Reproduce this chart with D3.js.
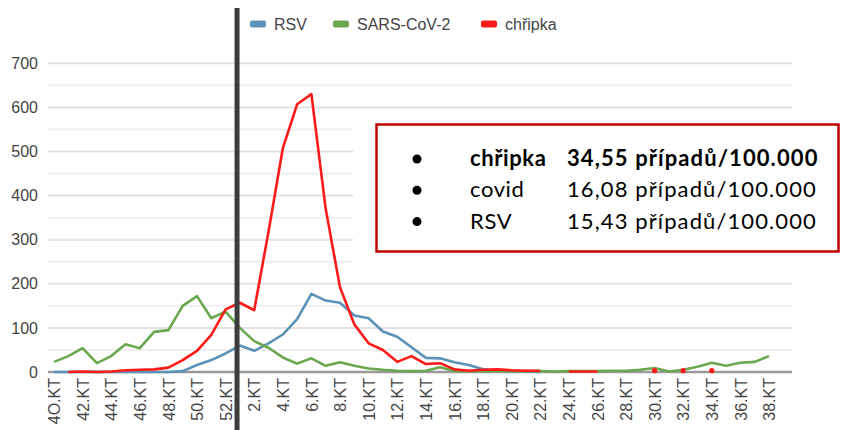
<!DOCTYPE html>
<html>
<head>
<meta charset="utf-8">
<script src="https://cdn.jsdelivr.net/npm/d3@7"></script>
<style>
  html, body { margin: 0; padding: 0; background: #fff; }
  svg { display: block; }
</style>
</head>
<body>
<div id="chart"></div>
<script>
// weeks of the season 2022/23 (40.KT .. 38.KT)
var weeks = [40,41,42,43,44,45,46,47,48,49,50,51,52,
             1,2,3,4,5,6,7,8,9,10,11,12,13,14,15,16,17,18,19,20,21,22,23,24,25,26,27,28,29,30,31,32,33,34,35,36,37,38];

var rsv = [0,0,0,0,0,0,0,0,0,2,16,27,42,
           60,48,65,85,120,177,162,157,128,122,92,80,56,32,31,22,16,6,3,1,1,0,
           null,null,null,null,null,null,null,null,null,null,null,null,null,null,null,null];

var covid = [23,36,54,20,36,63,54,91,95,150,172,122,137,
             100,70,55,33,19,31,14,22,14,8,5,3,2,3,11,2,2,2,2,2,2,2,1,2,2,2,3,3,5,9,1,5,12,21,14,21,23,36];

var chripka = [null,0,1,0,1,4,5,6,10,27,48,84,142,
               157,140,318,507,607,630,370,192,108,65,50,23,36,18,20,6,3,5,6,4,3,3,
               null,1,1,1,null,null,null,3,null,3,null,3,null,null,null,null];

var seriesNames = ["RSV", "SARS-CoV-2", "chřipka"];
var seriesColors = ["#5b93b8", "#6aa84f", "#ff1a1a"];
var yTicks = [0,100,200,300,400,500,600,700];

var boxRows = [
  {label: "chřipka", value: "34,55 případů/100.000", bold: true},
  {label: "covid", value: "16,08 případů/100.000", bold: false},
  {label: "RSV", value: "15,43 případů/100.000", bold: false}
];

var cfg = {
  w: 843, h: 430,
  x0: 54, x1: 769,
  gridLeft: 48, gridRight: 792,
  yTop: 63.3, yBottom: 372,
  lineWidth: 2.6,
  font: "'Liberation Sans', Arial, sans-serif",
  boxFont: "Lato, 'Open Sans', sans-serif"
};

var svg = d3.select("#chart").append("svg")
  .attr("width", cfg.w)
  .attr("height", cfg.h);

var x = d3.scaleLinear().domain([0, weeks.length - 1]).range([cfg.x0, cfg.x1]);
var y = d3.scaleLinear().domain([0, 700]).range([cfg.yBottom, cfg.yTop]);

// gridlines every 50 (minor lighter)
var gridVals = d3.range(50, 701, 50);
svg.append("g").selectAll("line")
  .data(gridVals)
  .enter()
  .append("line")
  .attr("x1", cfg.gridLeft)
  .attr("x2", cfg.gridRight)
  .attr("y1", function(d){ return y(d); })
  .attr("y2", function(d){ return y(d); })
  .style("stroke", function(d){ return d % 100 === 0 ? "#e2e2e2" : "#efefef"; })
  .style("stroke-width", "2px");

// y axis labels
var yAxis = d3.axisLeft(y).tickValues(yTicks).tickSize(0).tickPadding(0);
var yg = svg.append("g")
  .attr("transform", "translate(38,0)")
  .call(yAxis);
yg.select(".domain").remove();
yg.selectAll("text")
  .style("font-family", cfg.font)
  .style("font-size", "16px")
  .attr("fill", "#444");

// baseline
svg.append("line")
  .attr("x1", cfg.gridLeft)
  .attr("x2", cfg.gridRight)
  .attr("y1", y(0))
  .attr("y2", y(0))
  .style("stroke", "#9a9a9a")
  .style("stroke-width", "2.5px");

// x axis labels (every second week)
var labelIdx = weeks.map(function(d, i){ return i; }).filter(function(i){ return weeks[i] % 2 === 0; });
var xAxis = d3.axisBottom(x)
  .tickValues(labelIdx)
  .tickSize(0)
  .tickFormat(function(i){ return (weeks[i] === 40 ? "4O" : weeks[i]) + ".KT"; });
var xg = svg.append("g")
  .attr("transform", "translate(0," + (y(0) + 6) + ")")
  .call(xAxis);
xg.select(".domain").remove();
xg.selectAll("text")
  .style("font-family", cfg.font)
  .style("font-size", "16px")
  .attr("fill", "#444")
  .attr("text-anchor", "end")
  .attr("transform", "rotate(-90)")
  .attr("x", 0)
  .attr("y", 0)
  .attr("dx", 0)
  .attr("dy", "0.35em");

// series lines
var data = [rsv, covid, chripka];
var line = d3.line()
  .defined(function(d){ return d !== null; })
  .x(function(d, i){ return x(i); })
  .y(function(d){ return y(d); });

data.forEach(function(s, k){
  svg.append("path")
    .datum(s)
    .attr("d", line)
    .style("fill", "none")
    .style("stroke", seriesColors[k])
    .style("stroke-width", cfg.lineWidth + "px")
    .style("stroke-linejoin", "round");

  // isolated points show up as dots
  var lone = s.map(function(d, i){ return {v: d, i: i}; })
    .filter(function(p){
      return p.v !== null && (p.i === 0 || s[p.i-1] === null) && (p.i === s.length-1 || s[p.i+1] === null);
    });
  svg.append("g").selectAll("circle")
    .data(lone)
    .enter()
    .append("circle")
    .attr("cx", function(p){ return x(p.i); })
    .attr("cy", function(p){ return y(p.v); })
    .attr("r", 2.6)
    .style("fill", seriesColors[k]);
});

// legend
var legend = svg.append("g").attr("transform", "translate(0,24)");
var legX = [250, 333, 481];
seriesNames.forEach(function(n, k){
  legend.append("rect")
    .attr("x", legX[k])
    .attr("y", -3.5)
    .attr("width", 16)
    .attr("height", 7)
    .attr("rx", 2)
    .style("fill", seriesColors[k]);
  legend.append("text")
    .attr("x", legX[k] + 24)
    .attr("y", 0)
    .attr("dy", "0.35em")
    .style("font-family", cfg.font)
    .style("font-size", "16px")
    .attr("fill", "#444")
    .text(n);
});

// separator between the years
var sepX = x(12) + 0.8 * (x(13) - x(12));
svg.append("line")
  .attr("x1", sepX)
  .attr("x2", sepX)
  .attr("y1", 8)
  .attr("y2", cfg.h)
  .style("stroke", "#3d3d3d")
  .style("stroke-width", "5px");

// info box
svg.append("rect")
  .attr("x", 353)
  .attr("y", 116)
  .attr("width", 490)
  .attr("height", 156)
  .style("fill", "#fff");

svg.append("rect")
  .attr("x", 376.5)
  .attr("y", 124.5)
  .attr("width", 462)
  .attr("height", 127)
  .style("fill", "#fff")
  .style("stroke", "#c00000")
  .style("stroke-width", "2.5px");

var rows = svg.append("g").selectAll("g")
  .data(boxRows)
  .enter()
  .append("g")
  .attr("transform", function(d, i){ return "translate(0," + (166 + i * 31.3) + ")"; });

rows.append("circle")
  .attr("cx", 417)
  .attr("cy", -7)
  .attr("r", 4.5)
  .style("fill", "#000");

rows.append("text")
  .attr("x", 470)
  .style("font-family", cfg.boxFont)
  .style("font-size", "22px")
  .style("letter-spacing", "0.6px")
  .style("font-weight", function(d){ return d.bold ? "bold" : "normal"; })
  .attr("fill", "#000")
  .text(function(d){ return d.label; });

rows.append("text")
  .attr("x", 567)
  .style("font-family", cfg.boxFont)
  .style("font-size", "22px")
  .style("letter-spacing", "1.1px")
  .style("font-weight", function(d){ return d.bold ? "bold" : "normal"; })
  .attr("fill", "#000")
  .text(function(d){ return d.value; });
</script>
</body>
</html>
